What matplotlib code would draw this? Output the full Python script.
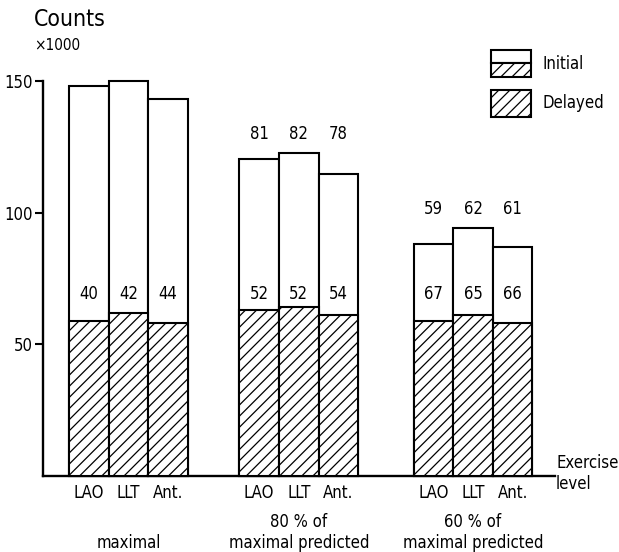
import numpy as np
import matplotlib.pyplot as plt
from matplotlib.patches import Rectangle

# counts x1000
views = ["LAO", "LLT", "Ant."]
levels = ["\nmaximal", "80 % of\nmaximal predicted", "60 % of\nmaximal predicted"]
initial = [[148, 150, 143], [120.5, 122.5, 114.5], [88, 94, 87]]
delayed = [[59, 62, 58], [63, 64, 61], [59, 61, 58]]
pct_delayed = [[40, 42, 44], [52, 52, 54], [67, 65, 66]]
pct_maximal = [None, [81, 82, 78], [59, 62, 61]]
yticks = [50, 100, 150]

plt.rcParams['font.family'] = ['DejaVu Sans']
plt.rcParams['font.stretch'] = 'condensed'
plt.rcParams['hatch.linewidth'] = 0.9

W, H = 619, 552
fig = plt.figure(figsize=(W / 100, H / 100), dpi=100)


def px(x, y):
    # pixel position (from top-left) -> figure fraction
    return x / W, 1 - y / H


ax = fig.add_axes([43 / W, 1 - 476 / H, (555 - 43) / W, (476 - 81) / H])

group_pos = [0, 4.3, 8.7]
lw = 1.5
fs = 12
for g, x0 in enumerate(group_pos):
    x = x0 + np.arange(3)
    ax.bar(x, initial[g], width=1, color="white", edgecolor="black",
           linewidth=lw, clip_on=False, zorder=2)
    ax.bar(x, delayed[g], width=1, facecolor="white", edgecolor="black",
           hatch="///", linewidth=lw, clip_on=False, zorder=3)
    for i in range(3):
        ax.text(x[i], 69, str(pct_delayed[g][i]), ha="center", va="center",
                fontsize=fs)
        if pct_maximal[g] is not None:
            ax.text(x[i], max(initial[g]) + 7.5, str(pct_maximal[g][i]),
                    ha="center", va="center", fontsize=fs)
    ax.text(x0 + 1, -0.143, levels[g], transform=ax.get_xaxis_transform(),
            ha="center", va="center", fontsize=fs, linespacing=1.2)

xt = np.concatenate([p + np.arange(3) for p in group_pos])
ax.set_xticks(xt)
ax.set_xticklabels(views * 3, fontsize=fs)
ax.tick_params(axis="x", length=0, pad=6)
ax.set_yticks(yticks)
ax.set_yticklabels([str(v) for v in yticks], fontsize=fs)
ax.tick_params(axis="y", length=6, width=1.5, pad=1)

ax.set_xlim(-1.16, 11.77)
ax.set_ylim(0, 150)
for s in ["top", "right"]:
    ax.spines[s].set_visible(False)
ax.spines["left"].set_linewidth(1.7)
ax.spines["bottom"].set_linewidth(1.7)

# titles
fig.text(*px(34, 20), "Counts", fontsize=16.5, ha="left", va="center")
fig.text(*px(34, 45), "×1000", fontsize=11, ha="left", va="center")
fig.text(*px(556, 463), "Exercise", fontsize=fs, ha="left", va="center")
fig.text(*px(556, 484), "level", fontsize=fs, ha="left", va="center")


# legend drawn by hand (split box for Initial)
def box(x, y, w, h, hatch=None):
    fx, fy = px(x, y + h)
    r = Rectangle((fx, fy), w / W, h / H, transform=fig.transFigure,
                  facecolor="white", edgecolor="black", linewidth=lw,
                  hatch=hatch)
    fig.add_artist(r)


box(491, 50, 40, 12.5)
box(491, 62.5, 40, 14.5, hatch="///")
box(491, 90, 40, 27, hatch="///")
fig.text(*px(543, 64), "Initial", fontsize=fs, ha="left", va="center")
fig.text(*px(543, 103), "Delayed", fontsize=fs, ha="left", va="center")

fig.savefig("out.png", dpi=100)
